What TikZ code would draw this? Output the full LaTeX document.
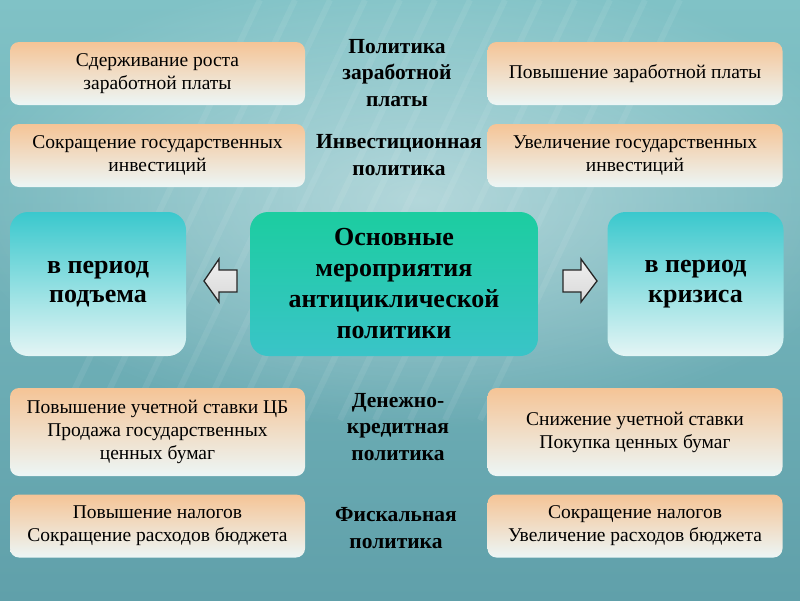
\documentclass[tikz,border=0pt]{standalone}
\usepackage{fontspec}
\setmainfont{Liberation Serif}
\usetikzlibrary{fadings}
\tikzfading[name=glowfade, inner color=transparent!0, outer color=transparent!100]
\definecolor{bgtop}{RGB}{128,194,198}
\definecolor{bgbot}{RGB}{96,160,170}
\definecolor{peachtop}{RGB}{245,196,150}
\definecolor{peachbot}{RGB}{236,246,246}
\definecolor{bluetop}{RGB}{58,200,205}
\definecolor{bluebot}{RGB}{228,245,245}
\definecolor{maintop}{RGB}{28,205,160}
\definecolor{mainbot}{RGB}{58,196,200}
\tikzset{
  peach/.style={rounded corners=9pt, top color=peachtop, bottom color=peachbot,
    minimum width=295pt, align=center, inner sep=0pt,
    font=\fontsize{19.5}{23}\selectfont},
  period/.style={rounded corners=18pt, top color=bluetop, bottom color=bluebot,
    minimum width=176pt, minimum height=144pt, align=center, inner sep=0pt,
    font=\bfseries\fontsize{26}{29.5}\selectfont},
  mainbox/.style={rounded corners=18pt, top color=maintop, bottom color=mainbot,
    minimum width=288pt, minimum height=144pt, align=center, inner sep=0pt,
    font=\bfseries\fontsize{26}{31}\selectfont},
  lbl/.style={align=center, inner sep=0pt, font=\bfseries\fontsize{21.5}{26.5}\selectfont},
  blockarrow/.style={draw=black!85, line width=1.3pt, line join=miter, top color=gray!12, bottom color=gray!30}
}
\begin{document}
\begin{tikzpicture}[x=1pt,y=-1pt]
\useasboundingbox (0,0) rectangle (800,600);
\shade[top color=bgtop,bottom color=bgbot] (0,0) rectangle (800,600);
\fill[white,opacity=0.45,path fading=glowfade] (420,200) ellipse (470 and 230);
\foreach \i in {0,...,12}{
  \draw[white,opacity=0.07,line width=6pt] (260+\i*35,0) -- (60+\i*35,420);
}

% top rows
\node[peach, minimum height=63pt] (lt1) at (157.5,73.5) {Сдерживание роста\\заработной платы};
\node[peach, minimum height=63pt] (lt2) at (157.5,155.5) {Сокращение государственных\\инвестиций};
\node[peach, minimum height=63pt] (rt1) at (635,73.5) {Повышение заработной платы};
\node[peach, minimum height=63pt] (rt2) at (635,155.5) {Увеличение государственных\\инвестиций};

\node[lbl] (wage) at (397,73) {Политика\\заработной\\платы};
\node[lbl] (invest) at (399,155) {Инвестиционная\\политика};

% middle row
\node[period] (up) at (98,284) {в период\\подъема};
\node[mainbox] (main) at (394,284) {Основные\\мероприятия\\антициклической\\политики};
\node[period] (down) at (695.5,284) {в период\\кризиса};

\draw[blockarrow] (204,281) -- (219,259) -- (219,270) -- (237,270) -- (237,292) -- (219,292) -- (219,302) -- cycle;
\draw[blockarrow] (597,281) -- (581,259) -- (581,270) -- (563,270) -- (563,292) -- (581,292) -- (581,302) -- cycle;

% bottom rows
\node[peach, minimum height=88pt] (lb1) at (157.5,432) {Повышение учетной ставки ЦБ\\Продажа государственных\\ценных бумаг};
\node[peach, minimum height=63pt] (lb2) at (157.5,526) {Повышение налогов\\Сокращение расходов бюджета};
\node[peach, minimum height=88pt] (rb1) at (635,432) {Снижение учетной ставки\\Покупка ценных бумаг};
\node[peach, minimum height=63pt] (rb2) at (635,526) {Сокращение налогов\\Увеличение расходов бюджета};

\node[lbl] (money) at (398,427) {Денежно-\\кредитная\\политика};
\node[lbl] (fiscal) at (396,528) {Фискальная\\политика};
\end{tikzpicture}
\end{document}
